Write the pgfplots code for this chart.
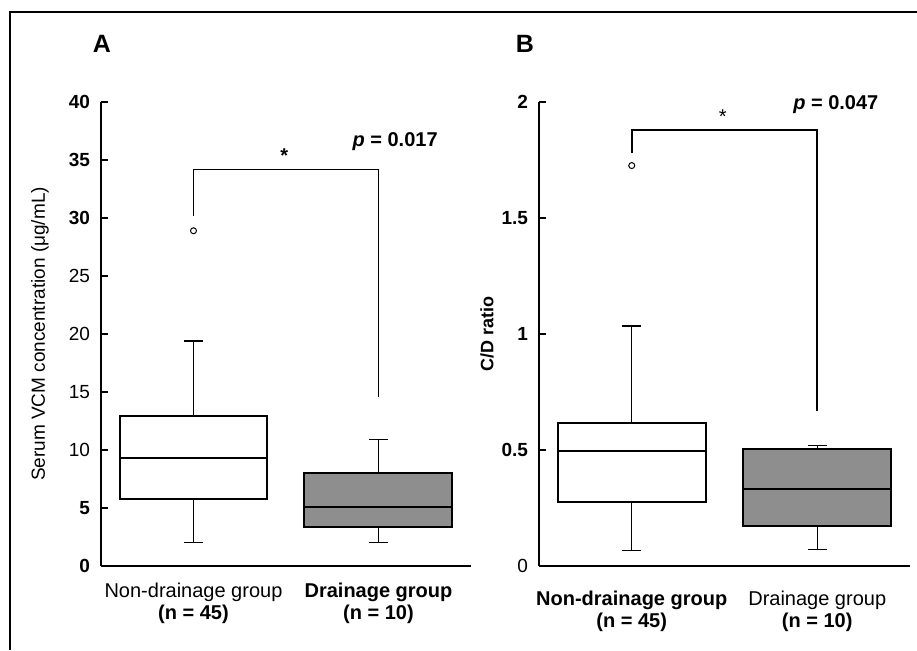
\documentclass[border=0pt]{standalone}
\usepackage{pgfplots}
\pgfplotsset{compat=1.18}
\usepgfplotslibrary{statistics}
\usepackage{fontspec}
\setmainfont{Liberation Sans}
\definecolor{boxgray}{HTML}{8E8E8E}
\begin{document}
\begin{tikzpicture}
\useasboundingbox (0,0) rectangle (458.5pt,325pt);
\begin{scope}[x=0.5pt,y=0.5pt]
\draw[line width=1pt] (10,0) -- (10,638) -- (917,638);
\node[font=\fontsize{12.5}{14}\selectfont\bfseries] at (102,606) {A};
\node[font=\fontsize{12.5}{14}\selectfont\bfseries] at (525,606) {B};
\end{scope}
\pgfplotsset{
  myaxis/.style={
    scale only axis,
    anchor=south west,
    height=232pt,
    xmin=0.5, xmax=2.5,
    axis lines=left,
    axis line style={-},
    tick align=inside,
    major tick length=3.5pt,
    ytick style={line width=1pt,black},
    xtick={1,2},
    xtick style={draw=none},
    xticklabel style={align=center,font=\fontsize{10}{11}\selectfont, yshift=-5pt},
    yticklabel style={font=\fontsize{9.5}{11}\selectfont, xshift=-2pt},
    clip=false,
    boxplot/draw direction=y,
    boxplot/box extend=0.8,
    boxplot/whisker extend=0.1,
    boxplot/every box/.style={draw=black,line width=1pt},
    boxplot/every median/.style={draw=black,line width=1pt},
    boxplot/every whisker/.style={draw=black,line width=0.7pt},
  },
}
% Panel A
\begin{axis}[myaxis, at={(50.5pt,42pt)}, width=185pt,
  ymin=0, ymax=40, ytick={0,5,...,40},
  yticklabels={\textbf{0},\textbf{5},10,15,20,25,\textbf{30},\textbf{35},\textbf{40}},
  xticklabels={Non-drainage group\\\textbf{(n = 45)},\textbf{Drainage group}\\\textbf{(n = 10)}},
  x axis line style={line width=0.8pt},
  y axis line style={line width=1.3pt},
  ylabel={Serum VCM concentration (μg/mL)},
  ylabel style={at={(axis description cs:-0.165,0.5)},anchor=center,font=\fontsize{9.5}{11}\selectfont},
]
\addplot+[black, mark=o, mark size=1.5pt, mark options={line width=0.5pt,fill=none},
  boxplot prepared={lower whisker=2.04, lower quartile=5.77, median=9.32,
    upper quartile=12.9, upper whisker=19.4, draw position=1},
  boxplot/every box/.append style={fill=white}]
  table[row sep=\\,y index=0]{data\\ 28.9\\};
\addplot+[black, mark=o, mark size=1.5pt,
  boxplot prepared={lower whisker=2.04, lower quartile=3.33, median=5.05,
    upper quartile=8.06, upper whisker=10.93, draw position=2},
  boxplot/every box/.append style={fill=boxgray}]
  coordinates {};
\addplot[black, line width=0.5pt, mark=none] coordinates {(1,30.2) (1,34.2) (2,34.2) (2,14.6)};
\node[font=\fontsize{10}{12}\selectfont\bfseries] at (axis cs:1.49,35.4) {*};
\node[font=\fontsize{10}{12}\selectfont\bfseries] at (axis cs:2.09,36.6) {\textit{p} = 0.017};
\end{axis}
% Panel B
\begin{axis}[myaxis, at={(269.5pt,42pt)}, width=185.5pt,
  ymin=0, ymax=2, ytick={0,0.5,1,1.5,2},
  yticklabels={0,\textbf{0.5},\textbf{1},\textbf{1.5},\textbf{2}},
  xticklabels={\textbf{Non-drainage group}\\\textbf{(n = 45)},Drainage group\\\textbf{(n = 10)}},
  xticklabel style={yshift=-4pt},
  x axis line style={line width=1.3pt},
  y axis line style={line width=1.4pt},
  ylabel={\textbf{C/D ratio}},
  ylabel style={at={(axis description cs:-0.14,0.5)},anchor=center,font=\fontsize{9}{11}\selectfont},
]
\addplot+[black, mark=o, mark size=1.5pt, mark options={line width=0.5pt,fill=none},
  boxplot prepared={lower whisker=0.068, lower quartile=0.277, median=0.494,
    upper quartile=0.615, upper whisker=1.034, draw position=1},
  boxplot/every box/.append style={fill=white}]
  table[row sep=\\,y index=0]{data\\ 1.726\\};
\addplot+[black, mark=o, mark size=1.5pt,
  boxplot prepared={lower whisker=0.072, lower quartile=0.174, median=0.333,
    upper quartile=0.506, upper whisker=0.519, draw position=2},
  boxplot/every box/.append style={fill=boxgray}]
  coordinates {};
\addplot[black, line width=0.9pt, mark=none] coordinates {(1,1.78) (1,1.878) (2,1.878) (2,0.67)};
\node[font=\fontsize{10}{12}\selectfont] at (axis cs:1.49,1.935) {*};
\node[font=\fontsize{10}{12}\selectfont\bfseries] at (axis cs:2.10,1.99) {\textit{p} = 0.047};
\end{axis}
\end{tikzpicture}
\end{document}
